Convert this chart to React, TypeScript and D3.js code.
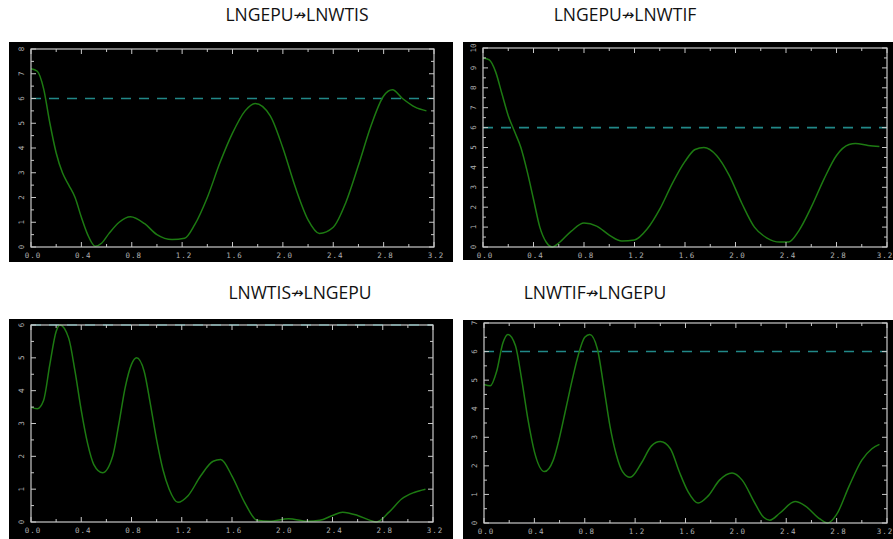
import React from "react";
import * as d3 from "d3";

// ---- Data ----
const titleLeft = ["LNGEPU", "LNGEPU", "LNWTIS", "LNWTIF"];
const titleRight = ["LNWTIS", "LNWTIF", "LNGEPU", "LNGEPU"];
const arrow = "\u219B";
const xTicks = [0, 0.4, 0.8, 1.2, 1.6, 2.0, 2.4, 2.8, 3.2];
const yMaxes = [8, 10, 6, 7];
const critical = [6, 6, 6, 6];

const freq1 = [0, 0.05, 0.1, 0.15, 0.2, 0.25, 0.3, 0.35, 0.4, 0.45, 0.51, 0.56, 0.62, 0.7, 0.79, 0.9, 1.0, 1.12, 1.22, 1.3, 1.4, 1.5, 1.6, 1.7, 1.78, 1.9, 2.0, 2.1, 2.2, 2.29, 2.4, 2.5, 2.6, 2.7, 2.8, 2.87, 2.95, 3.05, 3.14];
const val1 = [7.2, 7.1, 6.4, 5.0, 3.8, 3.0, 2.5, 2.0, 1.2, 0.5, 0.03, 0.15, 0.55, 1.0, 1.22, 0.95, 0.5, 0.3, 0.35, 0.9, 2.0, 3.4, 4.6, 5.5, 5.8, 5.3, 4.0, 2.4, 1.1, 0.55, 0.8, 1.8, 3.3, 4.9, 6.1, 6.35, 6.0, 5.65, 5.5];

const freq2 = [0, 0.05, 0.1, 0.15, 0.2, 0.25, 0.3, 0.35, 0.4, 0.45, 0.5, 0.55, 0.6, 0.7, 0.8, 0.9, 1.0, 1.1, 1.2, 1.3, 1.4, 1.5, 1.6, 1.68, 1.75, 1.85, 1.95, 2.05, 2.15, 2.25, 2.35, 2.42, 2.5, 2.6, 2.7, 2.8, 2.9, 2.95, 3.05, 3.14];
const val2 = [9.5, 9.4, 8.8, 7.7, 6.6, 5.8, 5.0, 3.8, 2.4, 1.0, 0.25, 0.0, 0.2, 0.8, 1.2, 1.05, 0.6, 0.3, 0.35, 0.9, 1.9, 3.2, 4.3, 4.9, 5.0, 4.6, 3.6, 2.2, 1.0, 0.45, 0.25, 0.25, 0.8, 2.0, 3.4, 4.6, 5.15, 5.2, 5.1, 5.05];

const freq3 = [0, 0.05, 0.1, 0.15, 0.2, 0.23, 0.3, 0.35, 0.4, 0.45, 0.5, 0.57, 0.65, 0.7, 0.75, 0.8, 0.84, 0.9, 0.95, 1.0, 1.05, 1.1, 1.17, 1.25, 1.35, 1.45, 1.51, 1.6, 1.7, 1.8, 1.9, 2.05, 2.2, 2.3, 2.4, 2.48, 2.6, 2.7, 2.75, 2.85, 2.95, 3.05, 3.14];
const val3 = [3.5, 3.45, 3.7, 4.8, 5.8, 6.0, 5.6, 4.6, 3.4, 2.4, 1.75, 1.5, 2.0, 3.0, 4.1, 4.8, 5.0, 4.6, 3.6, 2.5, 1.6, 1.0, 0.6, 0.8, 1.4, 1.85, 1.9, 1.4, 0.6, 0.05, 0.02, 0.1, 0.02, 0.05, 0.2, 0.3, 0.2, 0.05, 0.0, 0.3, 0.7, 0.9, 1.0];

const freq4 = [0, 0.05, 0.1, 0.15, 0.19, 0.25, 0.3, 0.35, 0.4, 0.48, 0.55, 0.6, 0.65, 0.7, 0.75, 0.8, 0.84, 0.9, 0.95, 1.0, 1.05, 1.1, 1.16, 1.25, 1.33, 1.4, 1.48, 1.55, 1.62, 1.7, 1.78, 1.87, 1.97, 2.05, 2.15, 2.22, 2.27, 2.35, 2.47, 2.55, 2.65, 2.73, 2.8, 2.9, 3.0, 3.08, 3.14];
const val4 = [4.85, 4.8, 5.3, 6.3, 6.6, 6.2, 5.0, 3.6, 2.5, 1.8, 2.2, 3.0, 4.0, 5.0, 5.9, 6.5, 6.6, 6.1, 4.8, 3.4, 2.4, 1.8, 1.6, 2.1, 2.7, 2.85, 2.6, 1.8, 1.1, 0.7, 0.95, 1.5, 1.75, 1.5, 0.7, 0.2, 0.1, 0.35, 0.75, 0.6, 0.2, 0.0, 0.3, 1.3, 2.2, 2.6, 2.75];

const freqs = [freq1, freq2, freq3, freq4];
const vals = [val1, val2, val3, val4];

// ---- Layout ----
const W = 893, H = 539;
const boxes = [
  { bg: [9, 42, 453, 262], fr: [31, 49, 434, 247], title: [297, 21] },
  { bg: [463, 42, 893, 260], fr: [483, 48, 887, 247], title: [625, 21] },
  { bg: [9, 319, 453, 539], fr: [31, 325, 433, 522], title: [300, 299] },
  { bg: [463, 320, 893, 539], fr: [484, 323, 887, 523], title: [595, 299] },
];

const FRAME = "#c8c8c8";
const LABEL = "#b0b0b0";
const CURVE = "#1d7a12";
const DASH = "#218888";

function Panel({ i }: { i: number }) {
  const b = boxes[i];
  const [fx0, fy0, fx1, fy1] = b.fr;
  const x = d3.scaleLinear().domain([0, 3.2]).range([fx0, fx1]);
  const y = d3.scaleLinear().domain([0, yMaxes[i]]).range([fy1, fy0]);
  const data = freqs[i].map((f, k) => [f, vals[i][k]] as [number, number]);
  const line = d3
    .line<[number, number]>()
    .x((d) => x(d[0]))
    .y((d) => y(Math.max(0, d[1])))
    .curve(d3.curveMonotoneX);
  const minorX = d3.range(0, 3.2001, 0.2);
  const yMajor = d3.range(0, yMaxes[i] + 0.001, 1);
  const yMinor = d3.range(0, yMaxes[i] + 0.001, 0.5);
  return (
    <g>
      <rect x={b.bg[0]} y={b.bg[1]} width={b.bg[2] - b.bg[0]} height={b.bg[3] - b.bg[1]} fill="#000" />
      <text
        x={b.title[0]}
        y={b.title[1]}
        textAnchor="middle"
        fontFamily="'Open Sans', Lato, sans-serif"
        fontSize={17.5}
        fill="#111"
      >
        {titleLeft[i]}
        <tspan fontFamily="'DejaVu Sans', sans-serif" fontSize={15} dy={-1}>{arrow}</tspan>
        <tspan dy={1}>{titleRight[i]}</tspan>
      </text>
      <line x1={fx0} x2={fx1} y1={y(critical[i])} y2={y(critical[i])} stroke={DASH} strokeWidth={1.6} strokeDasharray="10,8" />
      <path d={line(data) || ""} fill="none" stroke={CURVE} strokeWidth={1.5} />
      <rect x={fx0} y={fy0} width={fx1 - fx0} height={fy1 - fy0} fill="none" stroke={FRAME} strokeWidth={1.2} />
      {minorX.map((t, k) => {
        const major = k % 2 === 0;
        const len = major ? 5 : 3;
        return (
          <g key={"xt" + k}>
            <line x1={x(t)} x2={x(t)} y1={fy1} y2={fy1 - len} stroke={FRAME} strokeWidth={1} />
            <line x1={x(t)} x2={x(t)} y1={fy0} y2={fy0 + len} stroke={FRAME} strokeWidth={1} />
          </g>
        );
      })}
      {yMinor.map((t, k) => {
        const major = k % 2 === 0;
        const len = major ? 5 : 3;
        return (
          <g key={"yt" + k}>
            <line x1={fx0} x2={fx0 + len} y1={y(t)} y2={y(t)} stroke={FRAME} strokeWidth={1} />
            <line x1={fx1} x2={fx1 - len} y1={y(t)} y2={y(t)} stroke={FRAME} strokeWidth={1} />
          </g>
        );
      })}
      {xTicks.map((t, k) => (
        <text
          key={"xl" + k}
          x={Math.min(x(t) + 2, W - 8)}
          y={fy1 + 11}
          textAnchor="middle"
          fontFamily="'DejaVu Sans Mono', monospace"
          fontSize={7.5}
          letterSpacing={1}
          fill={LABEL}
        >
          {t.toFixed(1)}
        </text>
      ))}
      {yMajor.map((t, k) => (
        <text
          key={"yl" + k}
          transform={`translate(${fx0 - 7},${y(t)}) rotate(-90)`}
          textAnchor="middle"
          fontFamily="'DejaVu Sans Mono', monospace"
          fontSize={7.5}
          fill={LABEL}
        >
          {String(t)}
        </text>
      ))}
    </g>
  );
}

export default function App() {
  return (
    <svg
      width={W}
      height={H}
      style={{ position: "absolute", left: 0, top: 0, background: "#fff" }}
    >
      {boxes.map((_, i) => (
        <Panel key={i} i={i} />
      ))}
    </svg>
  );
}
